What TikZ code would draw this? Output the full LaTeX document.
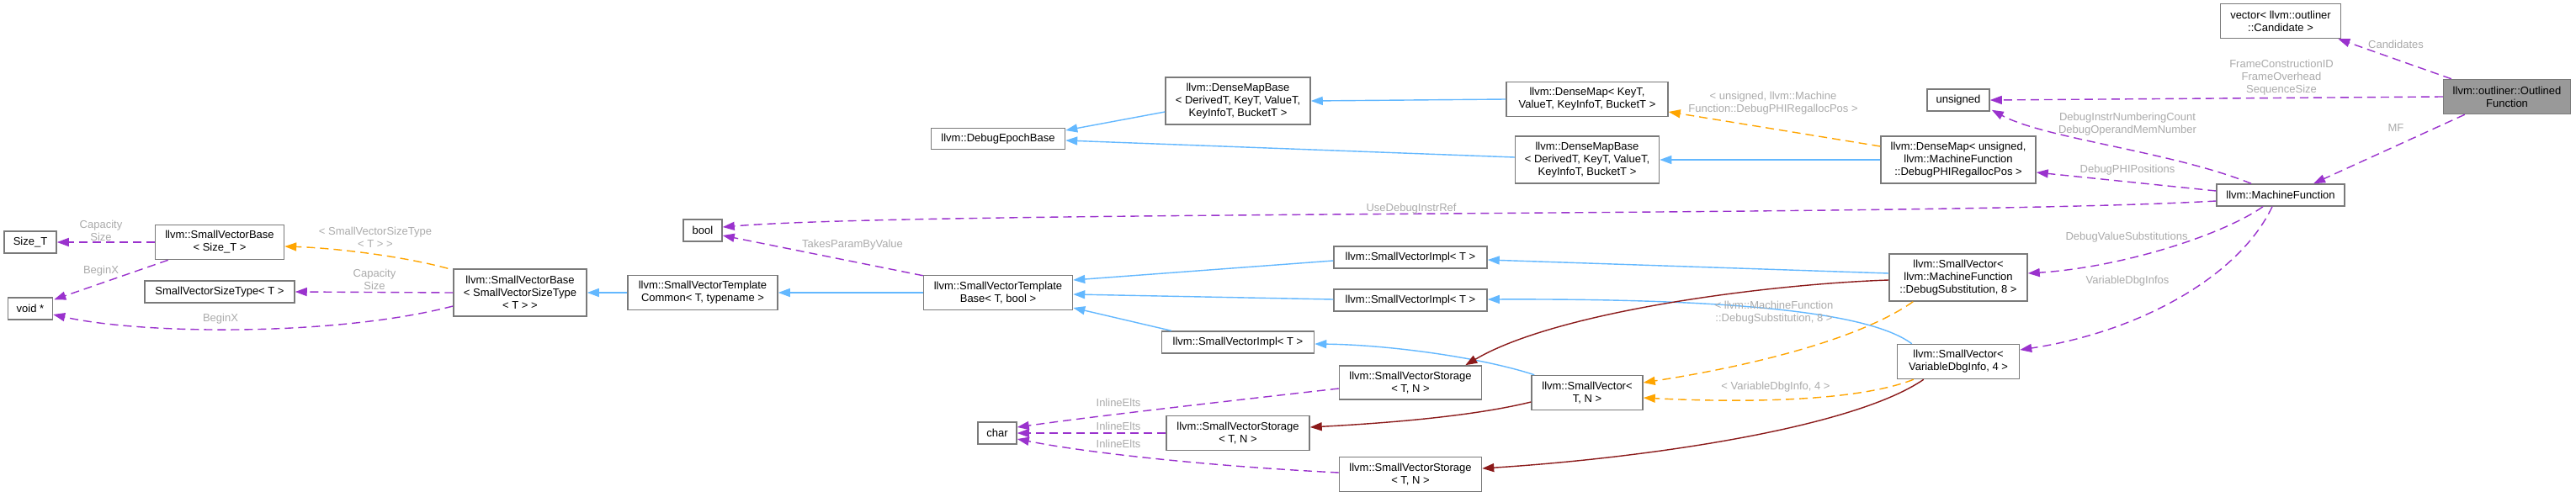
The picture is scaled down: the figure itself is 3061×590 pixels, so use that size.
\documentclass[tikz,border=0pt]{standalone}
\usepackage{fontspec}
\setmainfont{Liberation Sans}
\usetikzlibrary{arrows.meta,calc}
\definecolor{memc}{HTML}{9A32CD}
\definecolor{tplc}{HTML}{FFA500}
\definecolor{pubc}{HTML}{63B8FF}
\definecolor{privc}{HTML}{8B1A1A}
\definecolor{lblc}{HTML}{ABABAB}
\definecolor{boxc}{HTML}{7A7A7A}
\definecolor{hilc}{HTML}{999999}
\tikzset{
  cls/.style={draw=boxc, line width=1.5pt, fill=white, inner sep=0pt, align=center,
    font=\fontsize{13}{15}\selectfont},
  lbl/.style={text=lblc, inner sep=0pt, align=center, font=\fontsize{13}{15}\selectfont},
  tip/.style={-{Triangle[length=14pt,width=10pt]}},
  mem/.style={tip, draw=memc, line width=1.4pt, dash pattern=on 10pt off 6pt},
  tpl/.style={tip, draw=tplc, line width=1.4pt, dash pattern=on 10pt off 6pt},
  pub/.style={tip, draw=pubc, line width=1.4pt},
  priv/.style={tip, draw=privc, line width=1.4pt},
}
\begin{document}
\begin{tikzpicture}[x=1pt,y=-1pt]
\useasboundingbox[fill=white] (0,0) rectangle (3061,590);
% nodes
\node[cls, minimum width=62, minimum height=26] (sizeT) at (36,288) {Size\_T};
\node[cls, minimum width=53, minimum height=26] (voidp) at (36,367) {void *};
\node[cls, minimum width=153, minimum height=41] (svbs) at (261,288) {llvm::SmallVectorBase\\< Size\_T >};
\node[cls, minimum width=178, minimum height=26] (svst) at (261,347) {SmallVectorSizeType< T >};
\node[cls, minimum width=158, minimum height=56] (svbst) at (618,348) {llvm::SmallVectorBase\\< SmallVectorSizeType\\< T > >};
\node[cls, minimum width=46, minimum height=26] (bool) at (835,274) {bool};
\node[cls, minimum width=178, minimum height=41] (svtc) at (835,348) {llvm::SmallVectorTemplate\\Common< T, typename >};
\node[cls, minimum width=177, minimum height=41] (svtb) at (1186,348) {llvm::SmallVectorTemplate\\Base< T, bool >};
\node[cls, minimum width=159, minimum height=25] (deb) at (1186,165) {llvm::DebugEpochBase};
\node[cls, minimum width=172, minimum height=56] (dmb1) at (1471,120) {llvm::DenseMapBase\\< DerivedT, KeyT, ValueT,\\KeyInfoT, BucketT >};
\node[cls, minimum width=192, minimum height=41] (dm1) at (1886,118) {llvm::DenseMap< KeyT,\\ValueT, KeyInfoT, BucketT >};
\node[cls, minimum width=171, minimum height=56] (dmb2) at (1886,190) {llvm::DenseMapBase\\< DerivedT, KeyT, ValueT,\\KeyInfoT, BucketT >};
\node[cls, minimum width=74, minimum height=26] (unsig) at (2327,119) {unsigned};
\node[cls, minimum width=184, minimum height=56] (dm2) at (2327,190) {llvm::DenseMap< unsigned,\\llvm::MachineFunction\\::DebugPHIRegallocPos >};
\node[cls, minimum width=143, minimum height=41] (vec) at (2710,25) {vector< llvm::outliner\\::Candidate >};
\node[cls, fill=hilc, minimum width=151, minimum height=41] (of) at (2979,115) {llvm::outliner::Outlined\\Function};
\node[cls, minimum width=152, minimum height=26] (mf) at (2710,232) {llvm::MachineFunction};
\node[cls, minimum width=182, minimum height=26] (svi1) at (1676,306) {llvm::SmallVectorImpl< T >};
\node[cls, minimum width=182, minimum height=26] (svi2) at (1676,357) {llvm::SmallVectorImpl< T >};
\node[cls, minimum width=181, minimum height=26] (svi3) at (1471,407) {llvm::SmallVectorImpl< T >};
\node[cls, minimum width=169, minimum height=40] (svs1) at (1676,455) {llvm::SmallVectorStorage\\< T, N >};
\node[cls, minimum width=132, minimum height=41] (svtn) at (1886,467) {llvm::SmallVector<\\T, N >};
\node[cls, minimum width=170, minimum height=41] (svs2) at (1471,515) {llvm::SmallVectorStorage\\< T, N >};
\node[cls, minimum width=169, minimum height=41] (svs3) at (1676,564) {llvm::SmallVectorStorage\\< T, N >};
\node[cls, minimum width=46, minimum height=26] (char) at (1185,515) {char};
\node[cls, minimum width=164, minimum height=56] (svds) at (2327,330) {llvm::SmallVector<\\llvm::MachineFunction\\::DebugSubstitution, 8 >};
\node[cls, minimum width=145, minimum height=41] (svvdi) at (2327,430) {llvm::SmallVector<\\VariableDbgInfo, 4 >};
% member edges
\draw[mem] (svbs.west) -- (sizeT.east);
\draw[mem] ($(svbs.south west)+(16,0)$) -- ($(voidp.north east)+(1,3)$);
\draw[mem] (svbst.west) -- (svst.east);
\draw[mem] ($(svbst.west)+(0,16)$) .. controls (400,400) and (170,398) .. ($(voidp.east)+(0,7)$);
\draw[mem] ($(mf.west)+(0,7)$) .. controls (2300,258) and (1100,250) .. ($(bool.east)+(0,-4)$);
\draw[mem] ($(svtb.north west)+(0,1)$) -- ($(bool.east)+(0,6)$);
\draw[mem] ($(svs1.west)+(0,7)$) .. controls (1450,478) and (1300,495) .. ($(char.east)+(0,-7)$);
\draw[mem] (svs2.west) -- (char.east);
\draw[mem] ($(svs3.west)+(0,-2)$) .. controls (1450,555) and (1300,540) .. ($(char.east)+(0,7)$);
\draw[mem] ($(of.north west)+(10,0)$) -- ($(vec.south east)+(-4,0)$);
\draw[mem] (of.west) -- (unsig.east);
\draw[mem] ($(of.south west)+(26,0)$) -- ($(mf.north)+(39,0)$);
\draw[mem] ($(mf.north)+(-35,0)$) .. controls (2580,180) and (2430,165) .. ($(unsig.south east)+(2,-2)$);
\draw[mem] ($(mf.west)+(0,-5)$) -- ($(dm2.east)+(0,15)$);
\draw[mem] ($(mf.south)+(-21,0)$) .. controls (2640,280) and (2520,318) .. ($(svds.east)+(0,-5)$);
\draw[mem] ($(mf.south)+(-10,0)$) .. controls (2660,330) and (2540,395) .. ($(svvdi.east)+(0,-14)$);
% template edges
\draw[tpl] ($(svbst.north west)+(-6,0)$) .. controls (480,305) and (400,295) .. ($(svbs.east)+(0,5)$);
\draw[tpl] ($(dm2.west)+(0,-16)$) -- ($(dm1.east)+(0,15)$);
\draw[tpl] ($(svds.south west)+(29,0)$) .. controls (2200,410) and (2050,440) .. ($(svtn.east)+(0,-12)$);
\draw[tpl] ($(svvdi.south west)+(20,0)$) .. controls (2200,480) and (2050,478) .. ($(svtn.east)+(0,6)$);
% public inheritance
\draw[pub] (svtc.west) -- (svbst.east);
\draw[pub] (svtb.west) -- (svtc.east);
\draw[pub] ($(svi1.west)+(0,4)$) -- ($(svtb.east)+(0,-15)$);
\draw[pub] ($(svi2.west)+(0,-1)$) -- ($(svtb.east)+(0,2)$);
\draw[pub] ($(svi3.north west)+(12,0)$) -- ($(svtb.east)+(0,18)$);
\draw[pub] ($(dmb1.west)+(0,13)$) -- ($(deb.east)+(0,-10)$);
\draw[pub] ($(dmb2.west)+(0,-3)$) -- ($(deb.east)+(0,2)$);
\draw[pub] (dm1.west) -- (dmb1.east);
\draw[pub] (dm2.west) -- (dmb2.east);
\draw[pub] ($(svds.west)+(0,-5)$) -- ($(svi1.east)+(0,3)$);
\draw[pub] ($(svvdi.north west)+(18,0)$) .. controls (2220,370) and (2050,355) .. ($(svi2.east)+(0,-1)$);
\draw[pub] ($(svtn.north west)+(4,0)$) .. controls (1760,425) and (1650,410) .. ($(svi3.east)+(0,2)$);
% private inheritance
\draw[priv] ($(svds.west)+(0,3)$) .. controls (2100,338) and (1850,370) .. ($(svs1.north east)+(-20,0)$);
\draw[priv] ($(svtn.west)+(0,11)$) .. controls (1750,495) and (1650,503) .. ($(svs2.east)+(0,-7)$);
\draw[priv] ($(svvdi.south west)+(32,0)$) .. controls (2200,510) and (1950,545) .. ($(svs3.east)+(0,-7)$);
% labels
\node[lbl] (l1) at (120,274) {Capacity\\Size};
\node[lbl] (l2) at (120,322) {BeginX};
\node[lbl] (l3) at (446,282) {< SmallVectorSizeType\\< T > >};
\node[lbl] (l4) at (445,332) {Capacity\\Size};
\node[lbl] (l5) at (262,379) {BeginX};
\node[lbl] (l6) at (1013,291) {TakesParamByValue};
\node[lbl] (l7) at (1677,248) {UseDebugInstrRef};
\node[lbl] (l8) at (1329,479) {InlineElts};
\node[lbl] (l9) at (1329,507) {InlineElts};
\node[lbl] (l10) at (1329,528) {InlineElts};
\node[lbl] (l11) at (2107,123) {< unsigned, llvm::Machine\\Function::DebugPHIRegallocPos >};
\node[lbl] (l12) at (2847,53) {Candidates};
\node[lbl] (l13) at (2711,92) {FrameConstructionID\\FrameOverhead\\SequenceSize};
\node[lbl] (l14) at (2528,148) {DebugInstrNumberingCount\\DebugOperandMemNumber};
\node[lbl] (l15) at (2847,152) {MF};
\node[lbl] (l16) at (2528,202) {DebugPHIPositions};
\node[lbl] (l17) at (2527,282) {DebugValueSubstitutions};
\node[lbl] (l18) at (2528,334) {VariableDbgInfos};
\node[lbl] (l19) at (2108,372) {< llvm::MachineFunction\\::DebugSubstitution, 8 >};
\node[lbl] (l20) at (2110,460) {< VariableDbgInfo, 4 >};
\end{tikzpicture}
\end{document}
